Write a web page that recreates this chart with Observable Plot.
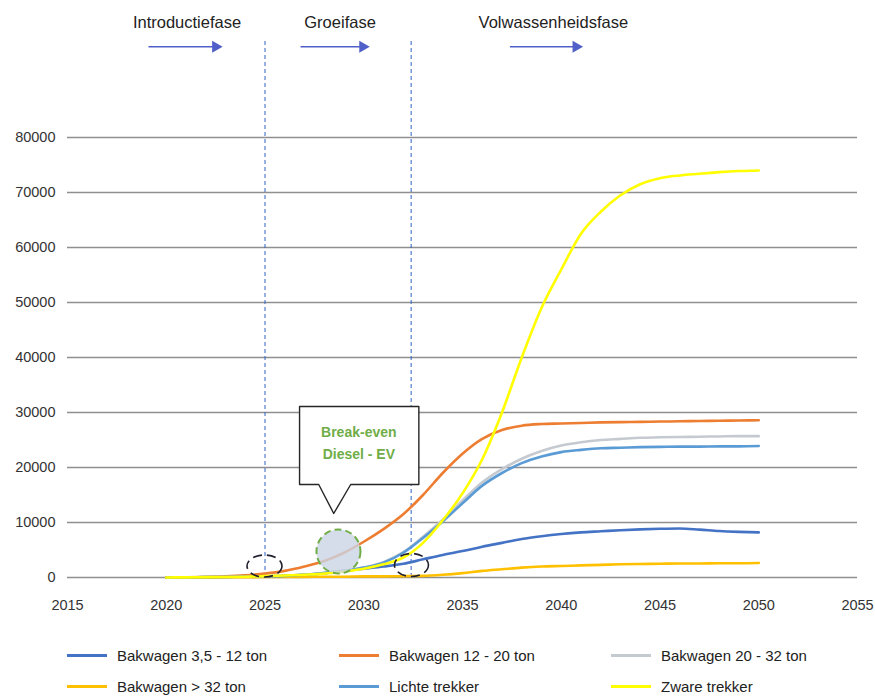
<!DOCTYPE html>
<html>
<head>
<meta charset="utf-8">
<script src="https://cdn.jsdelivr.net/npm/d3@7"></script>
<script src="https://cdn.jsdelivr.net/npm/@observablehq/plot@0.6"></script>
<style>
  html, body { margin: 0; padding: 0; background: #fff; }
  body { width: 875px; height: 698px; position: relative; overflow: hidden; font-family: "Liberation Sans", Arial, sans-serif; }
  #chart { position: absolute; left: 0; top: 0; }
  #legend { position: absolute; left: 0; top: 647px; width: 875px; height: 51px; }
  .item { position: absolute; display: flex; align-items: center; font-size: 15px; color: #222; white-space: nowrap; }
  .sw { width: 40px; height: 3px; margin-right: 10px; }
</style>
</head>
<body>
<div id="chart"></div>
<div id="legend"></div>
<script>
// ---- data ----
const years = [2020,2021,2022,2023,2024,2025,2026,2027,2028,2029,2030,2031,2032,2033,2034,2035,2036,2037,2038,2039,2040,2041,2042,2043,2044,2045,2046,2047,2048,2049,2050];

const seriesNames = ["Bakwagen 3,5 - 12 ton","Bakwagen 12 - 20 ton","Bakwagen 20 - 32 ton","Bakwagen > 32 ton","Lichte trekker","Zware trekker"];
const seriesColors = ["#4472C4","#ED7D31","#C5CAD1","#FFC000","#5B9BD5","#FFFF00"];

const bakwagen3_12  = [0,30,60,100,150,200,300,500,800,1200,1600,2000,2500,3300,4100,4800,5600,6300,7000,7500,7900,8200,8400,8600,8750,8850,8900,8700,8450,8300,8200];
const bakwagen12_20 = [0,50,100,200,400,700,1200,2000,3000,4500,6500,8800,11500,15000,19000,22500,25200,26800,27600,27900,28000,28100,28200,28250,28300,28350,28400,28450,28500,28550,28600];
const bakwagen20_32 = [0,30,60,100,150,200,300,500,800,1200,1800,2800,4600,7400,10500,14000,17300,19700,21600,23000,24000,24600,25000,25200,25400,25500,25550,25600,25650,25700,25700];
const bakwagen32    = [0,0,0,50,50,100,100,100,150,150,200,200,250,300,500,800,1200,1500,1800,2000,2100,2200,2300,2400,2450,2500,2550,2550,2600,2600,2650];
const lichteTrekker = [0,30,60,100,150,200,300,500,800,1200,1800,2700,4500,7200,10200,13500,16700,19000,20800,22000,22800,23200,23500,23600,23700,23750,23800,23800,23850,23850,23900];
const zwareTrekker  = [0,30,60,100,150,250,350,500,700,1100,1600,2400,3600,6300,10400,15300,21500,30000,40000,49000,56000,62500,66500,69500,71500,72600,73100,73400,73700,73900,74000];

const xTicks = [2015,2020,2025,2030,2035,2040,2045,2050,2055];
const yTicks = [0,10000,20000,30000,40000,50000,60000,70000,80000];

const phaseLabels = ["Introductiefase","Groeifase","Volwassenheidsfase"];
const phaseX = [2021.05, 2028.8, 2039.6];
const phaseArrowStart = [2019.1, 2026.8, 2037.4];
const phaseArrowEnd = [2022.5, 2029.95, 2040.75];
const phaseDividers = [2025, 2032.4];

const calloutLines = ["Break-even","Diesel - EV"];

// ---- build table ----
const allValues = [bakwagen3_12, bakwagen12_20, bakwagen20_32, bakwagen32, lichteTrekker, zwareTrekker];
const rows = [];
seriesNames.forEach((name, i) => {
  years.forEach((yr, j) => rows.push({series: name, year: yr, value: allValues[i][j]}));
});

const labelY = 100900, arrowY = 96500, dividerTop = 97600;
const calloutBox = [
  {x: 2026.75, y: 31090}, {x: 2032.79, y: 31090}, {x: 2032.79, y: 16910},
  {x: 2029.34, y: 16910}, {x: 2028.48, y: 11640}, {x: 2027.72, y: 16910},
  {x: 2026.75, y: 16910}, {x: 2026.75, y: 31090}
];

const font = "'Liberation Sans', Arial, sans-serif";

const chart = Plot.plot({
  width: 875,
  height: 630,
  marginTop: 137,
  marginBottom: 53,
  marginLeft: 67,
  marginRight: 18,
  style: {fontFamily: font, fontSize: "14.5px", color: "#333", background: "white", overflow: "visible"},
  x: {domain: [2015, 2055]},
  y: {domain: [0, 80000]},
  color: {domain: seriesNames, range: seriesColors},
  marks: [
    Plot.ruleY(yTicks, {stroke: "#8f8f8f", strokeWidth: 1.4}),
    Plot.axisY({ticks: yTicks, tickSize: 0, tickPadding: 12, tickFormat: d => String(d), fontSize: 14.5, fill: "#333", label: null}),
    Plot.axisX({ticks: xTicks, tickSize: 0, tickPadding: 22, tickFormat: d => String(d), fontSize: 14.5, fill: "#333", label: null}),
    // phase dividers
    Plot.ruleX(phaseDividers, {y1: 0, y2: dividerTop, stroke: "#2E62C0", strokeWidth: 1, strokeDasharray: "4,3"}),
    // phase labels and arrows
    Plot.text(phaseLabels, {x: (d, i) => phaseX[i], y: labelY, text: d => d, fontSize: 16.5, fill: "#222"}),
    Plot.link(phaseLabels, {x1: (d, i) => phaseArrowStart[i], x2: (d, i) => phaseArrowEnd[i], y1: arrowY, y2: arrowY, stroke: "#5160C9", strokeWidth: 1.5}),
    Plot.dot(phaseLabels, {x: (d, i) => phaseArrowEnd[i], y: arrowY, symbol: "triangle", rotate: 90, r: 4.5, fill: "#5160C9", stroke: "none"}),
    // series
    Plot.line(rows, {x: "year", y: "value", z: "series", stroke: "series", strokeWidth: 2.6, curve: "monotone-x"}),
    // break-even circle
    Plot.dot([{x: 2028.72, y: 4730}], {x: "x", y: "y", r: 22, fill: "#CBD5E6", fillOpacity: 0.8, stroke: "#70AD47", strokeWidth: 2, strokeDasharray: "7,4"}),
    // callout
    Plot.line(calloutBox, {x: "x", y: "y", fill: "white", stroke: "#262626", strokeWidth: 1.4, curve: "linear"}),
    Plot.text(calloutLines, {x: 2029.75, y: (d, i) => [26360, 22360][i], text: d => d, fill: "#70AD47", fontWeight: "bold", fontSize: 14})
  ]
});

document.getElementById("chart").appendChild(chart);

// dashed ellipses placed through the plot's own scales
const sx = chart.scale("x"), sy = chart.scale("y");
const ellipses = [{x: 2025.0, y: 2000, rx: 17.5, ry: 11}, {x: 2032.44, y: 2180, rx: 17, ry: 11.5}];
const svg = d3.select(chart);
ellipses.forEach(e => {
  svg.append("ellipse")
    .attr("cx", sx.apply(e.x)).attr("cy", sy.apply(e.y))
    .attr("rx", e.rx).attr("ry", e.ry)
    .attr("fill", "none").attr("stroke", "#1f1f2e").attr("stroke-width", 1.6)
    .attr("stroke-dasharray", "9,5");
});

// legend
const legendPos = [[67, 0], [339, 0], [611, 0], [67, 31], [339, 31], [611, 31]];
const legend = document.getElementById("legend");
seriesNames.forEach((name, i) => {
  const it = document.createElement("div");
  it.className = "item";
  it.style.left = legendPos[i][0] + "px";
  it.style.top = legendPos[i][1] + "px";
  const sw = document.createElement("span");
  sw.className = "sw";
  sw.style.background = seriesColors[i];
  const tx = document.createElement("span");
  tx.textContent = name;
  it.appendChild(sw); it.appendChild(tx);
  legend.appendChild(it);
});
</script>
</body>
</html>
